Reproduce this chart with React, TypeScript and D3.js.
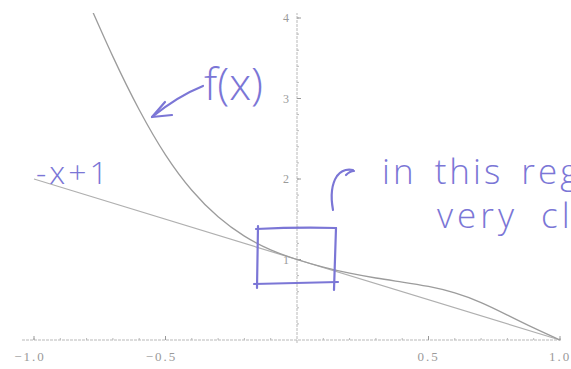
import React from "react";
import * as d3 from "d3";

// f(x) sampled along the curve
const curveX = [-0.8, -0.7, -0.6, -0.5, -0.4, -0.3, -0.2, -0.1, 0, 0.1, 0.2, 0.3, 0.4, 0.5, 0.6, 0.7, 0.8, 0.9, 1.0];
const curveY = [4.25, 3.52, 2.86, 2.3, 1.86, 1.53, 1.29, 1.12, 1.0, 0.905, 0.83, 0.77, 0.72, 0.665, 0.585, 0.465, 0.31, 0.15, 0.0];

// tangent line -x + 1
const lineX = [-1, 1];
const lineY = [2, 0];

const xTickValues = [-1, -0.5, 0.5, 1];
const xTickLabels = ["\u22121.0", "\u22120.5", "0.5", "1.0"];
const yTickValues = [1, 2, 3, 4];
const yTickLabels = ["1", "2", "3", "4"];

const W = 571;
const H = 369;

export default function App() {
  const x = d3.scaleLinear().domain([-1, 1]).range([34, 560]);
  const y = d3.scaleLinear().domain([0, 4]).range([340, 18]);

  const line = d3
    .line<[number, number]>()
    .x((d) => x(d[0]))
    .y((d) => y(d[1]))
    .curve(d3.curveNatural);

  const fPts = curveX.map((v, i) => [v, curveY[i]] as [number, number]);
  const tPts = lineX.map((v, i) => [v, lineY[i]] as [number, number]);

  const minorX = d3.range(-1, 1.0001, 0.1).filter((v) => Math.abs(v) > 1e-6);
  const minorY = d3.range(0.2, 4.0001, 0.2);

  const ink = "#7b76d6";
  const axisCol = "#b9b9b9";
  const hand = { fill: ink, fontFamily: "'Open Sans', sans-serif", fontWeight: 300 } as const;

  return (
    <svg
      width={W}
      height={H}
      style={{ position: "absolute", left: 0, top: 0, background: "#fff" }}
    >
      <defs>
        <clipPath id="plot">
          <rect x={20} y={13} width={545} height={335} />
        </clipPath>
      </defs>

      {/* axes */}
      <line x1={22} x2={562} y1={y(0)} y2={y(0)} stroke={axisCol} strokeWidth={1} strokeDasharray="3 1" />
      <line x1={x(0)} x2={x(0)} y1={y(0) + 3} y2={13} stroke={axisCol} strokeWidth={1} strokeDasharray="3 1" />

      {minorX.map((v, i) => (
        <line key={"mx" + i} x1={x(v)} x2={x(v)} y1={y(0)} y2={y(0) - 2} stroke={axisCol} />
      ))}
      {xTickValues.map((v, i) => (
        <line key={"Mx" + i} x1={x(v)} x2={x(v)} y1={y(0)} y2={y(0) - 4} stroke="#999" />
      ))}
      {minorY.map((v, i) => (
        <line key={"my" + i} x1={x(0)} x2={x(0) + 2} y1={y(v)} y2={y(v)} stroke={axisCol} />
      ))}
      {yTickValues.map((v, i) => (
        <line key={"My" + i} x1={x(0)} x2={x(0) + 4} y1={y(v)} y2={y(v)} stroke="#999" />
      ))}

      {xTickValues.map((v, i) => (
        <text
          key={"xl" + i}
          x={x(v) - (v < 0 ? 4 : 0)}
          y={361}
          textAnchor="middle"
          fontFamily="'Liberation Serif', serif"
          fontSize={13}
          letterSpacing={2}
          fill="#9a9a9a"
        >
          {xTickLabels[i]}
        </text>
      ))}
      {yTickValues.map((v, i) => (
        <text
          key={"yl" + i}
          x={x(0) - 8}
          y={y(v) + 4}
          textAnchor="end"
          fontFamily="'Liberation Serif', serif"
          fontSize={12}
          fill="#9a9a9a"
        >
          {yTickLabels[i]}
        </text>
      ))}

      {/* curves */}
      <g clipPath="url(#plot)">
        <path d={line(tPts) ?? ""} fill="none" stroke="#b0b0b0" strokeWidth={1.2} />
        <path d={line(fPts) ?? ""} fill="none" stroke="#9c9c9c" strokeWidth={1.3} />
      </g>

      {/* annotations */}
      <g fill="none" stroke={ink} strokeWidth={2.2} strokeLinecap="round" strokeLinejoin="round">
        <path d="M203,86 Q178,96 152,117" />
        <path d="M165,102 L152,117 L172,115" />
        <path d="M258,226 L257,288" />
        <path d="M256,229 Q298,227 336,228" />
        <path d="M336,228 L334,290" />
        <path d="M254,284 Q296,283 338,282" />
        <path d="M353,170 Q343,168 337,176 Q329,188 333,210" />
        <path d="M346,175 Q350,171 354,171" />
      </g>
      <text x={204} y={100} fontSize={44} {...hand}>
        f(x)
      </text>
      <text x={36} y={184} fontSize={32} letterSpacing={3} {...hand}>
        -x+1
      </text>
      <text x={382} y={184} fontSize={35} letterSpacing={3} wordSpacing={6} {...hand}>
        in this region
      </text>
      <text x={437} y={228} fontSize={35} letterSpacing={4} wordSpacing={10} {...hand}>
        very close
      </text>
    </svg>
  );
}
